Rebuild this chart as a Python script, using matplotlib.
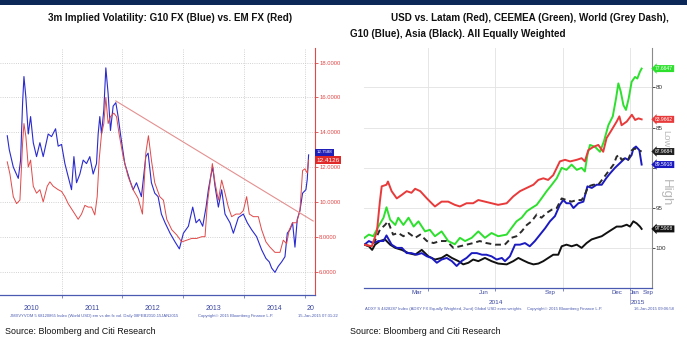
import matplotlib
matplotlib.use('Agg')
import matplotlib.pyplot as plt
import matplotlib.transforms as mtransforms
from matplotlib.patches import Rectangle

NARROW = ['Liberation Sans Narrow', 'Liberation Sans', 'DejaVu Sans']
plt.rcParams['font.family'] = NARROW

# ---- left chart: 3m implied vol, decimal years ----
g10_years = [2010.109, 2010.142, 2010.208, 2010.290, 2010.328, 2010.361, 2010.383, 2010.415, 2010.454, 2010.492,
             2010.536, 2010.590, 2010.645, 2010.699, 2010.781, 2010.836, 2010.902, 2010.945, 2011.000, 2011.055,
             2011.109, 2011.164, 2011.203, 2011.246, 2011.301, 2011.355, 2011.410, 2011.464, 2011.519, 2011.574,
             2011.601, 2011.628, 2011.656, 2011.694, 2011.727, 2011.765, 2011.803, 2011.847, 2011.891, 2011.929,
             2011.967, 2012.038, 2012.120, 2012.175, 2012.230, 2012.311, 2012.383, 2012.421, 2012.475, 2012.530,
             2012.585, 2012.639, 2012.699, 2012.781, 2012.863, 2012.934, 2013.000, 2013.082, 2013.153, 2013.208,
             2013.262, 2013.317, 2013.372, 2013.410, 2013.448, 2013.481, 2013.519, 2013.574, 2013.628, 2013.683,
             2013.765, 2013.820, 2013.902, 2013.984, 2014.049, 2014.120, 2014.202, 2014.284, 2014.355, 2014.410,
             2014.448, 2014.503, 2014.557, 2014.612, 2014.667, 2014.705, 2014.749, 2014.792, 2014.831, 2014.869,
             2014.913, 2014.956, 2015.011, 2015.033, 2015.055]
g10_vol = [13.8, 13.0, 12.0, 11.35, 12.4, 15.7, 17.2, 16.0, 13.9, 14.9,
           13.4, 12.6, 13.4, 12.6, 13.9, 13.75, 14.2, 13.2, 13.3, 12.2,
           11.45, 10.7, 12.6, 11.1, 11.6, 12.4, 12.2, 12.6, 11.6, 12.2,
           13.9, 14.9, 13.9, 15.3, 17.7, 16.2, 14.1, 15.5, 15.7, 14.9,
           13.9, 12.2, 11.25, 10.7, 11.1, 10.3, 12.6, 12.8, 11.1, 10.5,
           10.3, 9.3, 8.8, 8.2, 7.7, 7.3, 8.2, 8.6, 9.7, 8.8,
           9.0, 8.6, 9.7, 10.7, 11.45, 12.0, 10.9, 9.7, 10.7, 9.3,
           8.8, 8.2, 9.1, 9.3, 8.8, 8.4, 8.0, 7.25, 6.75, 6.55,
           6.2, 5.95, 6.3, 6.55, 6.85, 8.2, 8.4, 8.8, 7.4, 9.0,
           9.5, 10.5, 10.7, 11.3, 12.7]

em_years = [2010.109, 2010.153, 2010.208, 2010.262, 2010.317, 2010.361, 2010.383, 2010.415, 2010.454, 2010.492,
            2010.536, 2010.590, 2010.645, 2010.699, 2010.765, 2010.809, 2010.863, 2010.945, 2011.000, 2011.055,
            2011.109, 2011.164, 2011.219, 2011.273, 2011.328, 2011.383, 2011.437, 2011.492, 2011.546, 2011.585,
            2011.617, 2011.656, 2011.694, 2011.727, 2011.765, 2011.803, 2011.858, 2011.902, 2011.945, 2012.011,
            2012.093, 2012.175, 2012.257, 2012.328, 2012.383, 2012.426, 2012.475, 2012.530, 2012.612, 2012.672,
            2012.727, 2012.809, 2012.891, 2012.973, 2013.055, 2013.137, 2013.219, 2013.301, 2013.355, 2013.393,
            2013.437, 2013.475, 2013.519, 2013.574, 2013.628, 2013.683, 2013.738, 2013.792, 2013.863, 2013.929,
            2013.984, 2014.038, 2014.082, 2014.148, 2014.230, 2014.284, 2014.355, 2014.421, 2014.503, 2014.585,
            2014.639, 2014.694, 2014.738, 2014.792, 2014.858, 2014.913, 2014.956, 2014.995, 2015.033, 2015.055]
em_vol = [12.3, 11.6, 10.3, 9.9, 10.1, 13.4, 14.5, 13.75, 12.0, 12.4,
          10.9, 10.5, 10.7, 10.0, 10.9, 11.15, 10.9, 10.7, 10.6, 10.3,
          9.9, 9.6, 9.3, 9.0, 9.3, 9.8, 9.7, 9.7, 9.25, 10.3,
          12.4, 13.9, 14.5, 16.0, 14.5, 14.9, 15.1, 14.9, 13.9, 12.6,
          11.45, 10.7, 10.2, 9.3, 12.8, 13.8, 12.4, 11.1, 10.3, 10.1,
          9.0, 8.4, 8.1, 7.7, 7.8, 7.9, 7.9, 8.0, 8.0, 9.9,
          11.1, 12.2, 11.1, 10.1, 11.25, 10.5, 9.7, 9.15, 9.3, 9.3,
          9.5, 10.3, 9.3, 9.15, 9.15, 8.4, 7.7, 7.4, 7.1, 7.1,
          7.8, 7.6, 8.4, 8.8, 8.8, 9.5, 11.8, 11.9, 11.65, 12.4]

trend_years = [2011.89, 2015.13]
trend_vol = [15.8, 8.9]

vol_ticks = [6, 8, 10, 12, 14, 16, 18]
year_grid = [2011, 2012, 2013, 2014, 2015]
year_label_pos = [2010.5, 2011.5, 2012.5, 2013.5, 2014.5, 2015.09]
year_labels = ['2010', '2011', '2012', '2013', '2014', '20']
g10_last, em_last = '12.7588', '12.4126'

# ---- right chart: USD vs regions, days since 1-Jan-2014, inverted axis ----
latam_days = [3, 13, 20, 24, 26.5, 33, 35, 40, 47, 54, 60.5, 67, 72, 79, 88, 94.5, 99, 108, 117, 126, 133, 142, 151,
              158, 167, 176, 185, 196.6, 205.6, 214.7, 223.8, 233, 239.7, 246.5, 253, 260, 269, 276, 283, 292,
              298.6, 303, 307.7, 314.5, 321.3, 328, 332.6, 339.4, 346.3, 350, 353, 360, 367, 371.5, 376, 380.3]
latam = [99.55, 99.75, 97.9, 94.2, 92.3, 92.1, 91.7, 92.9, 93.8, 93.35, 92.9, 93.1, 92.6, 92.9, 93.8, 94.4, 94.8,
         94.2, 94.2, 94.6, 94.8, 94.4, 94.4, 94.0, 94.2, 94.4, 94.6, 94.4, 93.55, 92.9, 92.5, 92.1, 91.5, 91.3,
         91.5, 90.9, 89.2, 89.0, 89.2, 89.0, 88.8, 89.2, 87.8, 87.4, 87.15, 88.0, 86.3, 85.3, 84.25, 83.6, 84.7,
         84.25, 83.4, 84.05, 83.85, 83.97]

ceemea_days = [3, 9, 15, 22, 29, 33, 38, 45, 49, 56, 63, 70, 76.5, 85.5, 92, 99, 108, 117, 126, 133, 140, 149, 158,
               167, 176, 185, 196.6, 203, 210, 217, 224, 230.5, 237.5, 244, 251, 258, 264.7, 271.5, 278, 285, 292,
               298.6, 303, 306.5, 310, 317, 323.6, 329, 335, 341, 345.4, 348.6, 351.8, 355.5, 359, 362.6, 366.7,
               371.3, 374.4, 378, 380.3]
ceemea = [98.7, 98.3, 98.5, 97.3, 96.2, 94.9, 96.45, 97.1, 96.2, 97.1, 96.2, 97.3, 96.65, 97.9, 97.7, 98.5, 97.9,
          99.1, 99.5, 98.7, 99.1, 98.7, 97.9, 98.7, 98.1, 98.5, 98.3, 97.5, 96.65, 96.2, 95.4, 95.0, 94.6, 93.8,
          92.9, 92.1, 91.3, 90.0, 90.25, 89.6, 90.25, 90.0, 90.45, 88.4, 87.15, 87.4, 88.0, 86.7, 84.7, 83.6,
          81.4, 79.5, 80.5, 82.2, 82.8, 81.4, 79.3, 78.7, 78.9, 78.05, 77.66]

world_days = [3, 11, 17, 24, 31, 35, 42, 49, 56, 63, 72, 79, 88, 97, 106, 115, 124, 133, 142, 151, 160, 169, 181,
              194, 203, 210, 217, 224, 230.5, 237.5, 244, 251, 258, 264.7, 271.5, 278, 285, 292, 298.6, 303, 307.7,
              314.5, 321.3, 328, 335, 342, 346.3, 349.5, 353, 358, 362, 367, 371.5, 376, 380.3]
world = [99.55, 99.75, 99.1, 97.7, 97.1, 96.65, 98.3, 98.1, 98.5, 98.1, 98.7, 98.3, 99.1, 99.35, 99.1, 99.1, 99.95,
         99.75, 99.55, 99.35, 99.1, 99.35, 99.55, 99.55, 98.7, 98.5, 97.9, 97.1, 96.65, 95.8, 96.2, 95.6, 95.2,
         95.0, 93.8, 94.0, 94.2, 94.0, 94.0, 93.35, 92.3, 92.1, 92.1, 91.3, 90.45, 89.6, 88.6, 88.4, 89.0, 88.8,
         89.0, 87.8, 87.6, 87.8, 87.97]

g10_days = [3, 9, 15, 22, 29, 33, 40, 47, 54, 60.5, 67, 74, 81, 88, 94.5, 101.5, 108, 115, 122, 128.5, 135, 142,
            149, 156, 163, 169, 176, 183, 190, 194.3, 201, 208, 214.7, 221.5, 228, 235, 242, 249, 255.5, 262.3,
            269, 273.6, 278, 283, 287.5, 294.2, 301, 306.5, 312.4, 319, 326, 332, 337.2, 344, 350.9, 357.7, 362,
            366.7, 369, 372.6, 377.2, 380.3]
g10 = [99.55, 99.1, 99.35, 99.1, 99.1, 98.4, 99.55, 99.95, 99.95, 100.6, 100.6, 100.8, 100.6, 101.0, 101.2, 101.8,
       101.4, 101.2, 101.6, 102.2, 101.6, 101.2, 100.6, 100.6, 100.8, 100.8, 101.0, 101.4, 101.2, 101.6, 101.0,
       99.55, 99.55, 99.35, 99.75, 99.1, 98.3, 97.5, 96.65, 96.0, 94.6, 94.0, 94.4, 94.4, 95.0, 94.4, 94.2, 92.3,
       92.5, 92.1, 92.1, 91.3, 90.7, 90.0, 89.4, 88.8, 89.0, 88.4, 87.6, 87.35, 87.8, 89.59]

asia_days = [3, 9, 13.5, 17.4, 24, 31, 38, 45, 54, 63, 72, 81, 90, 99, 108, 115, 122, 131, 137.5, 144.5, 151, 158,
             167, 176, 185, 196.6, 205.6, 212.5, 219, 226, 233, 239.7, 246.5, 253.2, 260, 266.8, 271.5, 278, 285,
             292, 298.6, 305.4, 312.2, 319, 326, 332.6, 339.4, 346.3, 353, 360, 364.4, 369, 373.5, 378, 380.3]
asia = [99.55, 99.75, 100.2, 99.55, 99.1, 98.9, 99.55, 99.95, 100.2, 100.6, 100.8, 100.2, 101.0, 101.4, 101.2,
        100.8, 101.2, 101.6, 102.0, 101.8, 101.4, 101.6, 101.2, 101.6, 101.9, 102.0, 101.6, 101.2, 101.5, 101.8,
        102.0, 101.9, 101.6, 101.2, 100.8, 100.8, 99.75, 99.55, 99.75, 99.55, 99.95, 99.35, 98.9, 98.7, 98.5,
        98.1, 97.7, 97.3, 97.3, 97.07, 97.3, 96.65, 96.9, 97.3, 97.59]

usd_ticks = [80, 85, 90, 95, 100]
usd_tick_labels = ['80', '85', '', '95', '100']
quarter_grid = [90, 181, 273, 365]
month_label_pos = [74, 166, 256, 347, 371, 389]
month_labels = ['Mar', 'Jun', 'Sep', 'Dec', 'Jan', 'Sep']
year2_pos = [182, 375]
year2_labels = ['2014', '2015']
end_labels = [('77.6647', 77.66, '#2ee02e'), ('83.9662', 83.97, '#e83a3a'),
              ('87.9684', 87.97, '#222222'), ('89.5918', 89.59, '#1a1ac0'),
              ('97.5908', 97.59, '#111111')]

BLUE = '#2a2ad0'
RED = '#e24848'
AXBLUE = '#4a5ab0'
SMALLBLUE = '#4a5ab0'
TITLE_FS = 7.1
SOURCE_FS = 6.4

fig = plt.figure(figsize=(6.87, 3.47), dpi=100)
fig.patches.append(Rectangle((0, 1 - 5 / 347), 1, 5 / 347, transform=fig.transFigure,
                             facecolor='#0b2857', edgecolor='none'))

# ---------------- left panel ----------------
ax1 = fig.add_axes([0.0, 1 - 295 / 347, 315 / 687, 247 / 347])
ax1.plot(g10_years, g10_vol, color=BLUE, lw=0.8)
ax1.plot(em_years, em_vol, color=RED, lw=0.7)
ax1.plot(trend_years, trend_vol, color='#e49090', lw=0.8)
ax1.set_xlim(2009.99, 2015.16)
ax1.set_ylim(4.65, 18.84)
ax1.yaxis.tick_right()
ax1.set_yticks(vol_ticks)
ax1.set_yticklabels(['%.4f' % v for v in vol_ticks])
ax1.tick_params(axis='y', colors=RED, labelsize=4.2, length=2, width=0.6, pad=1)
ax1.set_xticks(year_grid)
ax1.set_xticklabels([])
ax1.set_xticks(year_label_pos, minor=True)
ax1.set_xticklabels(year_labels, minor=True)
ax1.tick_params(axis='x', which='major', length=2, width=0.5, colors=AXBLUE)
ax1.tick_params(axis='x', which='minor', length=0, pad=7, labelsize=5, labelcolor='#3a46a0')
ax1.grid(True, which='major', color='#c4c4c4', ls=':', lw=0.6)
for s in ['left', 'top']:
    ax1.spines[s].set_visible(False)
ax1.spines['right'].set_color(RED)
ax1.spines['right'].set_linewidth(0.8)
ax1.spines['bottom'].set_color(AXBLUE)
ax1.spines['bottom'].set_linewidth(0.9)

lab_tr = mtransforms.blended_transform_factory(ax1.transAxes, ax1.transData)
ax1.text(1.005, 12.85, g10_last, transform=lab_tr, fontsize=3.2, color='white', ha='left', va='center',
         bbox=dict(boxstyle='square,pad=0.35', fc='#2020b8', ec='none'))
ax1.text(1.005, 12.4, em_last, transform=lab_tr, fontsize=4.6, color='white', ha='left', va='center',
         bbox=dict(boxstyle='square,pad=0.25', fc='#e02a2a', ec='none'))

fig.text(170 / 687, 1 - 18 / 347, '3m Implied Volatility: G10 FX (Blue) vs. EM FX (Red)',
         fontsize=TITLE_FS, fontweight='bold', ha='center', va='center', color='#111111')
fig.text(10 / 687, 1 - 316 / 347,
         'JMXVYVOM 5 68120865 Index (World USD) em vs dm fx vol. Daily 08FEB2010-15JAN2015',
         fontsize=3.0, color=SMALLBLUE, ha='left', va='center')
fig.text(236 / 687, 1 - 316 / 347, 'Copyright\u00a9 2015 Bloomberg Finance L.P.',
         fontsize=3.0, color=SMALLBLUE, ha='center', va='center')
fig.text(338 / 687, 1 - 316 / 347, '15-Jan-2015 07:31:22',
         fontsize=3.0, color=SMALLBLUE, ha='right', va='center')
fig.text(5 / 687, 1 - 331 / 347, 'Source: Bloomberg and Citi Research',
         fontsize=SOURCE_FS, ha='left', va='center', color='#111111')

# ---------------- right panel ----------------
ax2 = fig.add_axes([364 / 687, 1 - 287.7 / 347, 287.7 / 687, 239.7 / 347])
ax2.plot(asia_days, asia, color='#111111', lw=1.4)
ax2.plot(g10_days, g10, color='#1a1ac0', lw=1.4)
ax2.plot(world_days, world, color='#2a2a2a', lw=1.4, ls=(0, (3, 2)))
ax2.plot(ceemea_days, ceemea, color='#2ee02e', lw=1.4)
ax2.plot(latam_days, latam, color='#e83a3a', lw=1.4)
ax2.set_xlim(2.4, 394)
ax2.set_ylim(104.9, 75.1)
ax2.yaxis.tick_right()
ax2.set_yticks(usd_ticks)
ax2.set_yticklabels(usd_tick_labels)
ax2.tick_params(axis='y', colors='#333333', labelsize=4.5, length=2, width=0.6, pad=1)
ax2.set_xticks(quarter_grid)
ax2.set_xticklabels([])
ax2.set_xticks(month_label_pos, minor=True)
ax2.set_xticklabels(month_labels, minor=True)
ax2.tick_params(axis='x', which='major', length=2, width=0.5, colors=AXBLUE)
ax2.tick_params(axis='x', which='minor', length=0, pad=1.5, labelsize=4.4, labelcolor='#3a46a0')
ax2.grid(True, which='major', color='#e2e2e2', ls='-', lw=0.6)
for s in ['left', 'top']:
    ax2.spines[s].set_visible(False)
ax2.spines['right'].set_color('#8a8a8a')
ax2.spines['right'].set_linewidth(0.8)
ax2.spines['bottom'].set_color(AXBLUE)
ax2.spines['bottom'].set_linewidth(0.9)

xt = mtransforms.blended_transform_factory(ax2.transData, ax2.transAxes)
for p, t in zip(year2_pos, year2_labels):
    ax2.text(p, -0.05, t, transform=xt, fontsize=4.6, color='#3a46a0', ha='center', va='top')
ax2.plot([365, 365], [-0.02, -0.07], transform=xt, color='#8a8ac0', lw=0.5, clip_on=False)

rt = mtransforms.blended_transform_factory(ax2.transAxes, ax2.transData)
ax2.text(1.05, 86.4, 'Low', transform=rt, fontsize=6.8, color='#b8b8b8', rotation=270,
         ha='center', va='center', zorder=2)
ax2.text(1.05, 93.1, 'High', transform=rt, fontsize=9.5, color='#b8b8b8', rotation=270,
         ha='center', va='center', zorder=2)
for txt, val, col in end_labels:
    ax2.text(1.012, val, txt, transform=rt, fontsize=3.6, color='white', ha='left', va='center', zorder=5,
             bbox=dict(boxstyle='larrow,pad=0.2', fc=col, ec='none'))

fig.text(530 / 687, 1 - 18 / 347, 'USD vs. Latam (Red), CEEMEA (Green), World (Grey Dash),',
         fontsize=TITLE_FS, fontweight='bold', ha='center', va='center', color='#111111')
fig.text(350 / 687, 1 - 34 / 347, 'G10 (Blue), Asia (Black). All Equally Weighted',
         fontsize=TITLE_FS, fontweight='bold', ha='left', va='center', color='#111111')
fig.text(365 / 687, 1 - 309 / 347,
         'ADXY S 4428287 Index (ADXY FX Equally Weighted, 2wnt) Global USD even weights',
         fontsize=3.0, color=SMALLBLUE, ha='left', va='center')
fig.text(565 / 687, 1 - 309 / 347, 'Copyright\u00a9 2015 Bloomberg Finance L.P.',
         fontsize=3.0, color=SMALLBLUE, ha='center', va='center')
fig.text(674 / 687, 1 - 309 / 347, '16-Jan-2015 09:06:58',
         fontsize=3.0, color=SMALLBLUE, ha='right', va='center')
fig.text(350 / 687, 1 - 332 / 347, 'Source: Bloomberg and Citi Research',
         fontsize=SOURCE_FS, ha='left', va='center', color='#111111')

fig.savefig('out.png', dpi=100)
